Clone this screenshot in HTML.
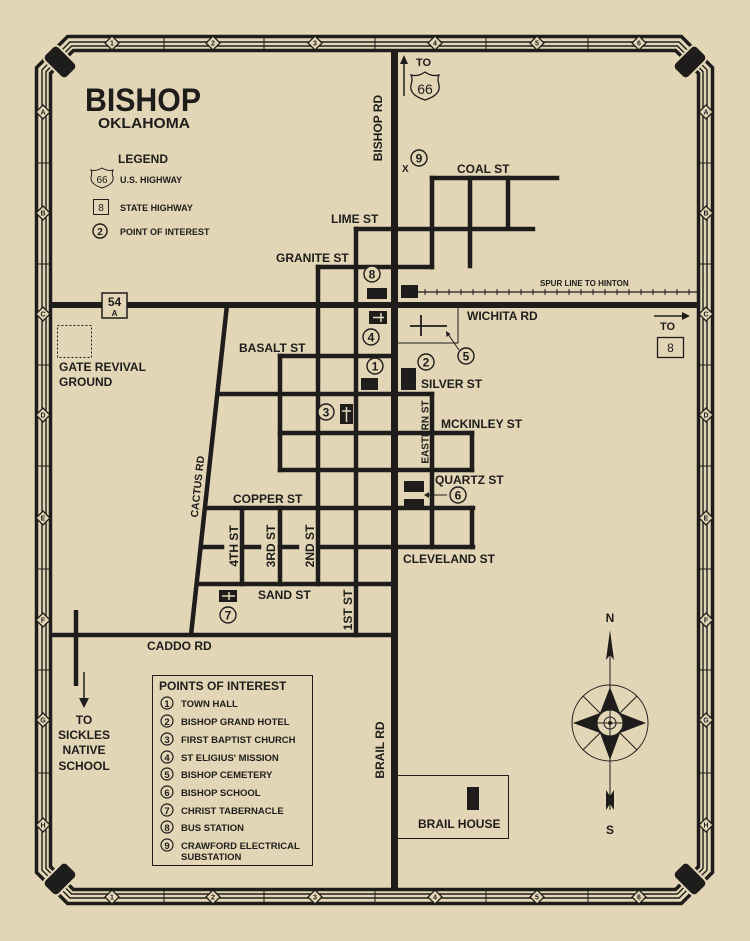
<!DOCTYPE html>
<html><head><meta charset="utf-8"><style>
html,body{margin:0;padding:0;background:#e3d6b7;}
svg{display:block;}
text{font-family:"Liberation Sans",sans-serif;font-weight:bold;fill:#1e1d1b;}
</style></head><body>
<svg width="750" height="941" viewBox="0 0 750 941" xmlns="http://www.w3.org/2000/svg">
<rect width="750" height="941" fill="#e3d6b7"/>
<g fill="none" stroke="#1e1d1b">
<path stroke-width="3.5" d="M67.6,36.5 L681.4,36.5 L712.5,67.6 L712.5,872.4 L681.4,903.5 L67.6,903.5 L36.5,872.4 L36.5,67.6Z"/>
<path stroke-width="1.4" d="M69.9,42 L679.1,42 L707,69.9 L707,870.1 L679.1,898 L69.9,898 L42,870.1 L42,69.9Z"/>
<path stroke-width="1.4" d="M71.6,46 L677.4,46 L703,71.6 L703,868.4 L677.4,894 L71.6,894 L46,868.4 L46,71.6Z"/>
<path stroke-width="3.5" d="M73.4,50.5 L675.6,50.5 L698.5,73.4 L698.5,866.6 L675.6,889.5 L73.4,889.5 L50.5,866.6 L50.5,73.4Z"/>
</g>
<g stroke="#1e1d1b" stroke-width="1">
<line x1="164" y1="36" x2="164" y2="51"/><line x1="264" y1="36" x2="264" y2="51"/><line x1="375" y1="36" x2="375" y2="51"/><line x1="486" y1="36" x2="486" y2="51"/><line x1="588" y1="36" x2="588" y2="51"/>
<line x1="164" y1="889" x2="164" y2="904"/><line x1="264" y1="889" x2="264" y2="904"/><line x1="375" y1="889" x2="375" y2="904"/><line x1="486" y1="889" x2="486" y2="904"/><line x1="588" y1="889" x2="588" y2="904"/>
<line x1="36" y1="163" x2="51" y2="163"/><line x1="36" y1="264" x2="51" y2="264"/><line x1="36" y1="365" x2="51" y2="365"/><line x1="36" y1="466" x2="51" y2="466"/><line x1="36" y1="569" x2="51" y2="569"/><line x1="36" y1="670" x2="51" y2="670"/><line x1="36" y1="773" x2="51" y2="773"/>
<line x1="698" y1="163" x2="713" y2="163"/><line x1="698" y1="264" x2="713" y2="264"/><line x1="698" y1="365" x2="713" y2="365"/><line x1="698" y1="466" x2="713" y2="466"/><line x1="698" y1="569" x2="713" y2="569"/><line x1="698" y1="670" x2="713" y2="670"/><line x1="698" y1="773" x2="713" y2="773"/>
</g>
<g font-size="7" text-anchor="middle">
<g stroke="#1e1d1b" stroke-width="1.3" fill="#e3d6b7">
<path d="M112,36 l7,7 l-7,7 l-7,-7z"/><path d="M213,36 l7,7 l-7,7 l-7,-7z"/><path d="M315,36 l7,7 l-7,7 l-7,-7z"/><path d="M435,36 l7,7 l-7,7 l-7,-7z"/><path d="M537,36 l7,7 l-7,7 l-7,-7z"/><path d="M639,36 l7,7 l-7,7 l-7,-7z"/>
<path d="M112,890 l7,7 l-7,7 l-7,-7z"/><path d="M213,890 l7,7 l-7,7 l-7,-7z"/><path d="M315,890 l7,7 l-7,7 l-7,-7z"/><path d="M435,890 l7,7 l-7,7 l-7,-7z"/><path d="M537,890 l7,7 l-7,7 l-7,-7z"/><path d="M639,890 l7,7 l-7,7 l-7,-7z"/>
<path d="M43,105 l7,7 l-7,7 l-7,-7z"/><path d="M43,206 l7,7 l-7,7 l-7,-7z"/><path d="M43,307 l7,7 l-7,7 l-7,-7z"/><path d="M43,408 l7,7 l-7,7 l-7,-7z"/><path d="M43,511 l7,7 l-7,7 l-7,-7z"/><path d="M43,613 l7,7 l-7,7 l-7,-7z"/><path d="M43,713 l7,7 l-7,7 l-7,-7z"/><path d="M43,818 l7,7 l-7,7 l-7,-7z"/>
<path d="M706,105 l7,7 l-7,7 l-7,-7z"/><path d="M706,206 l7,7 l-7,7 l-7,-7z"/><path d="M706,307 l7,7 l-7,7 l-7,-7z"/><path d="M706,408 l7,7 l-7,7 l-7,-7z"/><path d="M706,511 l7,7 l-7,7 l-7,-7z"/><path d="M706,613 l7,7 l-7,7 l-7,-7z"/><path d="M706,713 l7,7 l-7,7 l-7,-7z"/><path d="M706,818 l7,7 l-7,7 l-7,-7z"/>
</g>
<text x="112" y="45.5">1</text><text x="213" y="45.5">2</text><text x="315" y="45.5">3</text><text x="435" y="45.5">4</text><text x="537" y="45.5">5</text><text x="639" y="45.5">6</text>
<text x="112" y="899.5">1</text><text x="213" y="899.5">2</text><text x="315" y="899.5">3</text><text x="435" y="899.5">4</text><text x="537" y="899.5">5</text><text x="639" y="899.5">6</text>
<text x="43" y="114.5">A</text><text x="43" y="215.5">B</text><text x="43" y="316.5">C</text><text x="43" y="417.5">D</text><text x="43" y="520.5">E</text><text x="43" y="622.5">F</text><text x="43" y="722.5">G</text><text x="43" y="827.5">H</text>
<text x="706" y="114.5">A</text><text x="706" y="215.5">B</text><text x="706" y="316.5">C</text><text x="706" y="417.5">D</text><text x="706" y="520.5">E</text><text x="706" y="622.5">F</text><text x="706" y="722.5">G</text><text x="706" y="827.5">H</text>
</g>
<g fill="#1e1d1b" stroke="#e3d6b7" stroke-width="2">
<rect x="-16" y="-10" width="32" height="20" rx="5" transform="translate(60,62) rotate(45)"/>
<rect x="-16" y="-10" width="32" height="20" rx="5" transform="translate(690,62) rotate(-45)"/>
<rect x="-16" y="-10" width="32" height="20" rx="5" transform="translate(60,879) rotate(-45)"/>
<rect x="-16" y="-10" width="32" height="20" rx="5" transform="translate(690,879) rotate(45)"/>
</g>
<g stroke="#1e1d1b" stroke-width="4.5" fill="none" stroke-linecap="square">
<line x1="394.5" y1="52" x2="394.5" y2="888" stroke-width="7" stroke-linecap="butt"/>
<line x1="52" y1="305" x2="697" y2="305" stroke-width="6" stroke-linecap="butt"/>
<line x1="432" y1="178" x2="557" y2="178"/>
<line x1="432" y1="178" x2="432" y2="267"/>
<line x1="470" y1="178" x2="470" y2="266"/>
<line x1="508" y1="178" x2="508" y2="228"/>
<line x1="356" y1="229" x2="533" y2="229"/>
<line x1="356" y1="229" x2="356" y2="635"/>
<line x1="318" y1="267" x2="432" y2="267"/>
<line x1="318" y1="267" x2="318" y2="584"/>
<line x1="280" y1="356" x2="394" y2="356"/>
<line x1="280" y1="356" x2="280" y2="470"/>
<line x1="221" y1="394" x2="432" y2="394"/>
<line x1="432" y1="394" x2="432" y2="547"/>
<line x1="280" y1="433" x2="472" y2="433"/>
<line x1="472" y1="433" x2="472" y2="470"/>
<line x1="280" y1="470" x2="472" y2="470"/>
<line x1="208" y1="508" x2="473" y2="508"/>
<line x1="472" y1="508" x2="472" y2="547"/>
<line x1="320" y1="547" x2="473" y2="547"/>
<line x1="201" y1="547" x2="222" y2="547"/>
<line x1="243" y1="547" x2="259" y2="547"/>
<line x1="280" y1="547" x2="297" y2="547"/>
<line x1="242" y1="508" x2="242" y2="584"/>
<line x1="280" y1="508" x2="280" y2="584"/>
<line x1="198" y1="584" x2="391" y2="584"/>
<line x1="52" y1="635" x2="391" y2="635" stroke-linecap="butt"/>
<line x1="227" y1="305" x2="191" y2="635" stroke-linecap="butt"/>
<line x1="76" y1="610" x2="76" y2="686" stroke-linecap="butt"/>
</g>
<line x1="417" y1="292" x2="697" y2="292" stroke="#1e1d1b" stroke-width="1.3"/>
<path stroke="#1e1d1b" stroke-width="1" d="M425,289v6M437,289v6M449,289v6M461,289v6M473,289v6M485,289v6M497,289v6M509,289v6M521,289v6M533,289v6M545,289v6M557,289v6M569,289v6M581,289v6M593,289v6M605,289v6M617,289v6M629,289v6M641,289v6M653,289v6M665,289v6M677,289v6M689,289v6"/>
<text x="540" y="286" font-size="8">SPUR LINE TO HINTON</text>
<g fill="#1e1d1b">
<rect x="367" y="288" width="20" height="11"/>
<rect x="401" y="285" width="17" height="13"/>
<rect x="369" y="311" width="18" height="13"/>
<rect x="361" y="378" width="17" height="12"/>
<rect x="401" y="368" width="15" height="22"/>
<rect x="340" y="404" width="13" height="20"/>
<rect x="404" y="481" width="20" height="11"/>
<rect x="404" y="499" width="20" height="9"/>
<rect x="219" y="590" width="18" height="12"/>
<rect x="467" y="787" width="12" height="23"/>
</g>
<g stroke="#e3d6b7" stroke-width="1.5">
<path d="M373,317.5h11M381,313v9"/>
<path d="M346.5,407v15M342,411h9"/>
<path d="M222,596h13M229,592v8"/>
</g>
<g stroke="#1e1d1b" fill="none">
<path stroke-width="1" d="M398,343H458V308"/>
<path stroke-width="1.8" d="M410,326H447M421,315V336"/>
<path stroke-width="1" d="M459,350L448,334"/>
<path stroke-width="1" d="M447,495H426"/>
</g>
<path d="M446,331l0.5,6l4,-3z" fill="#1e1d1b"/>
<path d="M424,495l5,-3v6z" fill="#1e1d1b"/>
<g font-size="12" text-anchor="middle">
<g fill="#e3d6b7" stroke="#1e1d1b" stroke-width="1.4">
<circle cx="419" cy="158" r="8"/><circle cx="372" cy="274" r="8"/><circle cx="371" cy="337" r="8"/><circle cx="466" cy="356" r="8"/>
<circle cx="375" cy="366" r="8"/><circle cx="426" cy="362" r="8"/><circle cx="326" cy="412" r="8"/><circle cx="458" cy="495" r="8"/><circle cx="228" cy="615" r="8"/>
<circle cx="100" cy="231" r="7"/>
</g>
<text x="419" y="162.5">9</text><text x="372" y="278.5">8</text><text x="371" y="341.5">4</text><text x="466" y="360.5">5</text>
<text x="375" y="370.5">1</text><text x="426" y="366.5">2</text><text x="326" y="416.5">3</text><text x="458" y="499.5">6</text><text x="228" y="619.5">7</text>
<text x="100" y="235" font-size="10">2</text>
</g>
<text x="402" y="172" font-size="10">X</text>
<g font-size="12">
<text x="457" y="173">COAL ST</text>
<text x="331" y="223">LIME ST</text>
<text x="276" y="262">GRANITE ST</text>
<text x="467" y="320">WICHITA RD</text>
<text x="239" y="352">BASALT ST</text>
<text x="421" y="388">SILVER ST</text>
<text x="441" y="428">MCKINLEY ST</text>
<text x="435" y="484">QUARTZ ST</text>
<text x="233" y="503">COPPER ST</text>
<text x="403" y="563">CLEVELAND ST</text>
<text x="258" y="599">SAND ST</text>
<text x="147" y="650">CADDO RD</text>
<text x="59" y="371">GATE REVIVAL</text>
<text x="59" y="386">GROUND</text>
<text x="418" y="828">BRAIL HOUSE</text>
<text x="382" y="128" text-anchor="middle" transform="rotate(-90 382 128)">BISHOP RD</text>
<text x="384" y="750" text-anchor="middle" transform="rotate(-90 384 750)">BRAIL RD</text>
<text x="428.5" y="432" text-anchor="middle" font-size="10" transform="rotate(-90 428.5 432)">EASTERN ST</text>
<text x="238" y="546" text-anchor="middle" transform="rotate(-90 238 546)">4TH ST</text>
<text x="275" y="546" text-anchor="middle" transform="rotate(-90 275 546)">3RD ST</text>
<text x="314" y="546" text-anchor="middle" transform="rotate(-90 314 546)">2ND ST</text>
<text x="352" y="610" text-anchor="middle" transform="rotate(-90 352 610)">1ST ST</text>
<text x="201" y="487" text-anchor="middle" font-size="10.5" transform="rotate(-84 201 487)">CACTUS RD</text>
<g text-anchor="middle"><text x="84" y="724">TO</text><text x="84" y="739">SICKLES</text><text x="84" y="754">NATIVE</text><text x="84" y="770">SCHOOL</text></g>
</g>
<rect x="57.5" y="325.5" width="34" height="32" fill="none" stroke="#1e1d1b" stroke-width="1" stroke-dasharray="2,2"/>
<line x1="84" y1="672" x2="84" y2="700" stroke="#1e1d1b" stroke-width="1.5"/>
<path d="M79,698h10l-5,10z" fill="#1e1d1b"/>
<rect x="102" y="293" width="25" height="25" fill="#e3d6b7" stroke="#1e1d1b" stroke-width="1.5"/>
<text x="114.5" y="306" font-size="12" text-anchor="middle">54</text>
<text x="114.5" y="316" font-size="8" text-anchor="middle">A</text>
<line x1="404" y1="96" x2="404" y2="62" stroke="#1e1d1b" stroke-width="1.5"/>
<path d="M400,64h8l-4,-9z" fill="#1e1d1b"/>
<text x="416" y="66" font-size="11">TO</text>
<path d="M411,75 q7,2 14,-3 q7,5 14,3 q-2,4 0,10 q2,10 -14,15 q-16,-5 -14,-15 q2,-6 0,-10z" fill="none" stroke="#1e1d1b" stroke-width="1.3"/>
<text x="425" y="94" font-size="14" text-anchor="middle" style="font-weight:normal">66</text>
<line x1="654" y1="316" x2="684" y2="316" stroke="#1e1d1b" stroke-width="1.5"/>
<path d="M682,312v8l8,-4z" fill="#1e1d1b"/>
<text x="660" y="330" font-size="11">TO</text>
<rect x="657.5" y="337.5" width="26" height="20" fill="none" stroke="#1e1d1b" stroke-width="1.3"/>
<text x="670.5" y="352" font-size="12" text-anchor="middle" style="font-weight:normal">8</text>
<text x="85" y="111" font-size="32" textLength="116" lengthAdjust="spacingAndGlyphs">BISHOP</text>
<text x="98" y="128" font-size="15" textLength="92" lengthAdjust="spacingAndGlyphs">OKLAHOMA</text>
<text x="118" y="163" font-size="12">LEGEND</text>
<path d="M91,170 q5,1.5 11,-2 q6,3.5 11,2 q-1.5,3 0,7 q1.5,7 -11,11 q-12,-4 -11,-11 q1.5,-4 0,-7z" fill="none" stroke="#1e1d1b" stroke-width="1"/>
<text x="102" y="183" font-size="10" text-anchor="middle" style="font-weight:normal">66</text>
<text x="120" y="183" font-size="9">U.S. HIGHWAY</text>
<rect x="93.5" y="199.5" width="15" height="15" fill="none" stroke="#1e1d1b" stroke-width="1"/>
<text x="101" y="211" font-size="10" text-anchor="middle" style="font-weight:normal">8</text>
<text x="120" y="211" font-size="9">STATE HIGHWAY</text>
<text x="120" y="235" font-size="9">POINT OF INTEREST</text>
<rect x="152.5" y="675.5" width="160" height="190" fill="none" stroke="#1e1d1b" stroke-width="1"/>
<text x="159" y="690" font-size="12">POINTS OF INTEREST</text>
<g font-size="9.5">
<g fill="none" stroke="#1e1d1b" stroke-width="1.2">
<circle cx="167" cy="703" r="6"/><circle cx="167" cy="721" r="6"/><circle cx="167" cy="739" r="6"/><circle cx="167" cy="757" r="6"/><circle cx="167" cy="774" r="6"/><circle cx="167" cy="792" r="6"/><circle cx="167" cy="810" r="6"/><circle cx="167" cy="827" r="6"/><circle cx="167" cy="845" r="6"/>
</g>
<g text-anchor="middle" style="font-weight:normal"><text x="167" y="707">1</text><text x="167" y="725">2</text><text x="167" y="743">3</text><text x="167" y="761">4</text><text x="167" y="778">5</text><text x="167" y="796">6</text><text x="167" y="814">7</text><text x="167" y="831">8</text><text x="167" y="849">9</text></g>
<text x="181" y="707">TOWN HALL</text>
<text x="181" y="725">BISHOP GRAND HOTEL</text>
<text x="181" y="743">FIRST BAPTIST CHURCH</text>
<text x="181" y="761">ST ELIGIUS' MISSION</text>
<text x="181" y="778">BISHOP CEMETERY</text>
<text x="181" y="796">BISHOP SCHOOL</text>
<text x="181" y="814">CHRIST TABERNACLE</text>
<text x="181" y="831">BUS STATION</text>
<text x="181" y="849">CRAWFORD ELECTRICAL</text>
<text x="181" y="860">SUBSTATION</text>
</g>
<path d="M398,775.5H508.5V838.5H398" fill="none" stroke="#1e1d1b" stroke-width="1"/>
<g stroke="#1e1d1b" fill="none" stroke-width="1">
<line x1="610" y1="640" x2="610" y2="810"/>
<circle cx="610" cy="723" r="38"/>
<line x1="583" y1="696" x2="637" y2="750"/><line x1="637" y1="696" x2="583" y2="750"/>
</g>
<g fill="#1e1d1b">
<path d="M610,687 L620,713 L646,723 L620,733 L610,760 L600,733 L573,723 L600,713Z"/>
<path d="M610,630 l-4,30 l4,-5 l4,5z"/>
<path d="M606,790 l4,6 l4,-6 v20 l-4,-6 l-4,6z"/>
</g>
<circle cx="610" cy="723" r="13" fill="#e3d6b7" stroke="#1e1d1b" stroke-width="1"/>
<path d="M610,710v26M597,723h26" stroke="#1e1d1b" stroke-width="1"/>
<circle cx="610" cy="723" r="6" fill="none" stroke="#1e1d1b" stroke-width="1"/>
<circle cx="610" cy="723" r="2" fill="#1e1d1b"/>
<text x="610" y="622" font-size="12" text-anchor="middle">N</text>
<text x="610" y="834" font-size="12" text-anchor="middle">S</text>
</svg>
</body></html>
